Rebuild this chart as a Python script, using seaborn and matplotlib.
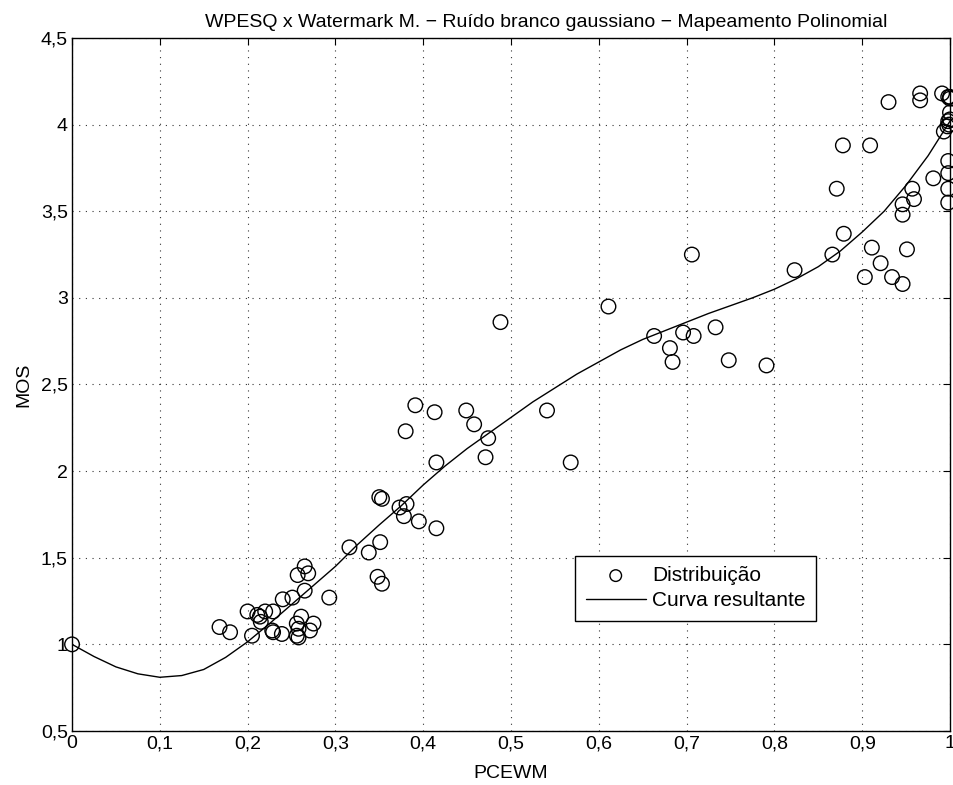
import numpy as np
import pandas as pd
import matplotlib
matplotlib.use("Agg")
import matplotlib.pyplot as plt
import seaborn as sns

# scatter points (PCEWM, MOS)
pcewm = [0.000, 0.168, 0.180, 0.205, 0.200, 0.211, 0.214, 0.220, 0.229, 0.215,
         0.228, 0.229, 0.239, 0.240, 0.251, 0.257, 0.265, 0.269, 0.265, 0.261,
         0.256, 0.258, 0.256, 0.258, 0.275, 0.271, 0.293, 0.316, 0.338, 0.351,
         0.348, 0.353, 0.350, 0.353, 0.373, 0.381, 0.378, 0.395, 0.415, 0.380,
         0.391, 0.413, 0.415, 0.449, 0.458, 0.474, 0.471, 0.488, 0.541, 0.568,
         0.611, 0.663, 0.681, 0.684, 0.696, 0.708, 0.706, 0.733, 0.748, 0.791,
         0.823, 0.866, 0.871, 0.878, 0.879, 0.903, 0.909, 0.911, 0.921, 0.930,
         0.934, 0.946, 0.946, 0.946, 0.951, 0.957, 0.959, 0.966, 0.966, 0.981,
         0.991, 0.993, 0.997, 0.998, 0.998, 1.000, 1.000, 1.000, 0.998, 0.998,
         0.998, 0.998, 1.000, 0.999]
mos = [1.00, 1.10, 1.07, 1.05, 1.19, 1.17, 1.16, 1.19, 1.19, 1.13,
       1.08, 1.07, 1.06, 1.26, 1.27, 1.40, 1.45, 1.41, 1.31, 1.16,
       1.12, 1.09, 1.05, 1.04, 1.12, 1.08, 1.27, 1.56, 1.53, 1.59,
       1.39, 1.35, 1.85, 1.84, 1.79, 1.81, 1.74, 1.71, 1.67, 2.23,
       2.38, 2.34, 2.05, 2.35, 2.27, 2.19, 2.08, 2.86, 2.35, 2.05,
       2.95, 2.78, 2.71, 2.63, 2.80, 2.78, 3.25, 2.83, 2.64, 2.61,
       3.16, 3.25, 3.63, 3.88, 3.37, 3.12, 3.88, 3.29, 3.20, 4.13,
       3.12, 3.08, 3.48, 3.54, 3.28, 3.63, 3.57, 4.18, 4.14, 3.69,
       4.18, 3.96, 3.99, 4.02, 4.16, 4.16, 4.07, 4.03, 3.79, 3.72,
       3.63, 3.55, 4.15, 4.00]

# fitted curve
curve_x = [0.000, 0.025, 0.050, 0.075, 0.100, 0.125, 0.150, 0.175, 0.200, 0.225,
           0.250, 0.275, 0.300, 0.325, 0.350, 0.375, 0.400, 0.425, 0.450, 0.475,
           0.500, 0.525, 0.550, 0.575, 0.600, 0.625, 0.650, 0.675, 0.700, 0.725,
           0.750, 0.775, 0.800, 0.825, 0.850, 0.875, 0.900, 0.925, 0.950, 0.975,
           1.000]
curve_y = [1.00, 0.93, 0.87, 0.83, 0.81, 0.82, 0.855, 0.925, 1.015, 1.12,
           1.23, 1.34, 1.45, 1.575, 1.69, 1.80, 1.92, 2.03, 2.13, 2.22,
           2.31, 2.40, 2.48, 2.56, 2.63, 2.70, 2.76, 2.81, 2.86, 2.91,
           2.955, 3.00, 3.05, 3.11, 3.18, 3.27, 3.38, 3.50, 3.65, 3.82,
           4.02]

xticks = [0, 0.1, 0.2, 0.3, 0.4, 0.5, 0.6, 0.7, 0.8, 0.9, 1.0]
xtick_labels = ["0", "0,1", "0,2", "0,3", "0,4", "0,5", "0,6", "0,7", "0,8", "0,9", "1"]
yticks = [0.5, 1, 1.5, 2, 2.5, 3, 3.5, 4, 4.5]
ytick_labels = ["0,5", "1", "1,5", "2", "2,5", "3", "3,5", "4", "4,5"]

sns.set_style("white")
plt.rcParams["font.family"] = ["Liberation Sans", "DejaVu Sans"]
plt.rcParams["text.color"] = "black"
plt.rcParams["axes.labelcolor"] = "black"

pts = pd.DataFrame({"PCEWM": pcewm, "MOS": mos})
crv = pd.DataFrame({"x": curve_x, "y": curve_y})

fig = plt.figure(figsize=(9.54, 7.85), dpi=100)
ax = fig.add_axes([0.0755, 0.0688, 0.9203, 0.8828])

sns.scatterplot(data=pts, x="PCEWM", y="MOS", ax=ax, marker="o", s=110,
                facecolors="none", edgecolor="black", linewidth=1.0,
                label="Distribuição", clip_on=False, zorder=3)
sns.lineplot(data=crv, x="x", y="y", ax=ax, color="black", linewidth=1.0,
             label="Curva resultante", zorder=2)

ax.set_xlim(0, 1)
ax.set_ylim(0.5, 4.5)
ax.set_xticks(xticks)
ax.set_xticklabels(xtick_labels)
ax.set_yticks(yticks)
ax.set_yticklabels(ytick_labels)
ax.tick_params(direction="in", length=5, width=0.8, top=True, right=True,
               labelsize=14, colors="black", pad=3)
ax.grid(True, linestyle=(0, (1, 5)), color="black", linewidth=0.8, alpha=0.8)
for sp in ax.spines.values():
    sp.set_color("black")
    sp.set_linewidth(1.0)

ax.set_xlabel("PCEWM", fontsize=14, labelpad=9)
ax.set_ylabel("MOS", fontsize=14, labelpad=6)
ax.set_title("WPESQ x Watermark M. \u2212 Ruído branco gaussiano \u2212 Mapeamento Polinomial",
             fontsize=14, pad=8, x=0.54)

leg = ax.legend(loc="upper left", bbox_to_anchor=(0.573, 0.253), fontsize=15,
                frameon=True, fancybox=False, edgecolor="black", framealpha=1,
                handlelength=2.9, handletextpad=0.3, borderpad=0.5,
                labelspacing=0.3, borderaxespad=0)
leg.get_frame().set_linewidth(1.0)
leg.legend_handles[0].set_sizes([70])

fig.savefig("out.png", dpi=100)
